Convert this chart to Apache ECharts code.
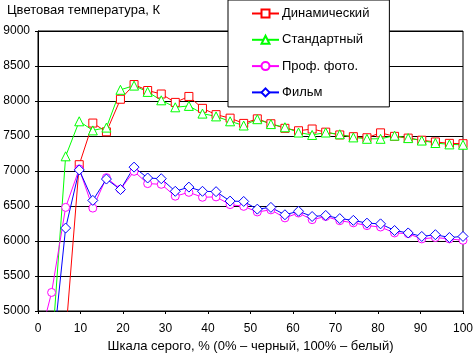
<!DOCTYPE html>
<html>
<head>
<meta charset="utf-8">
<script src="https://cdn.jsdelivr.net/npm/echarts@6/dist/echarts.min.js"></script>
<style>
  html, body { margin: 0; padding: 0; background: #fff; }
  #chart { width: 473px; height: 354px; }
</style>
</head>
<body>
<div id="chart"></div>
<script>
// grayscale level, % (0% black, 100% white)
const gray = [0, 3.2, 6.5, 9.7, 12.9, 16.1, 19.4, 22.6, 25.8, 29.0, 32.3, 35.5, 38.7, 41.9, 45.2, 48.4,
    51.6, 54.8, 58.1, 61.3, 64.5, 67.7, 71.0, 74.2, 77.4, 80.6, 83.9, 87.1, 90.3, 93.5, 96.8, 100];

const dynamicK = [3000, 3900, 4650, 7090, 7685, 7560, 8025, 8235, 8150, 8100, 7980, 8065, 7895, 7805, 7755, 7680,
    7745, 7675, 7610, 7575, 7600, 7555, 7515, 7490, 7475, 7545, 7495, 7470, 7440, 7415, 7395, 7390];
const standardK = [3300, 4390, 7210, 7710, 7580, 7620, 8160, 8220, 8130, 8010, 7910, 7930, 7820, 7780, 7710, 7650,
    7740, 7670, 7625, 7550, 7515, 7550, 7525, 7480, 7460, 7460, 7505, 7470, 7435, 7400, 7380, 7375];
const photoK = [4500, 5265, 6480, 7030, 6470, 6905, 6740, 6995, 6820, 6810, 6640, 6695, 6625, 6630, 6520, 6495,
    6415, 6445, 6330, 6400, 6305, 6350, 6290, 6260, 6220, 6200, 6115, 6105, 6030, 6050, 6030, 6010];
const filmK = [3000, 4250, 6185, 7015, 6580, 6885, 6735, 7055, 6900, 6890, 6710, 6770, 6710, 6705, 6570, 6565,
    6455, 6480, 6375, 6425, 6350, 6365, 6320, 6295, 6255, 6245, 6150, 6115, 6065, 6090, 6050, 6065];

const seriesDefs = [
    { name: 'Динамический', values: dynamicK, color: '#ff0000', symbol: 'rect', size: 8 },
    { name: 'Стандартный', values: standardK, color: '#00ff00', symbol: 'triangle', size: 9 },
    { name: 'Проф. фото.', values: photoK, color: '#ff00ff', symbol: 'circle', size: 8 },
    { name: 'Фильм', values: filmK, color: '#0000ff', symbol: 'diamond', size: 10 }
];

const font = '"Liberation Sans", Arial, sans-serif';

const chart = echarts.init(document.getElementById('chart'), null, { renderer: 'canvas' });

chart.setOption({
    animation: false,
    backgroundColor: '#fff',
    title: {
        text: 'Цветовая температура, К',
        left: 3,
        top: 0,
        padding: 4,
        textStyle: { fontFamily: font, fontSize: 13, fontWeight: 'normal', color: '#000' }
    },
    legend: {
        orient: 'vertical',
        left: 228,
        top: 0,
        padding: [7, 20, 8, 23],
        itemWidth: 27,
        itemHeight: 10,
        itemGap: 13.3,
        backgroundColor: '#fff',
        borderColor: '#000',
        borderWidth: 1,
        borderRadius: 0,
        textStyle: { fontFamily: font, fontSize: 13, color: '#000', padding: [0, 0, 0, -2] },
        data: seriesDefs.map(s => s.name)
    },
    grid: {
        left: 38,
        right: 10,
        top: 31,
        bottom: 43,
        outerBoundsMode: 'none',
        show: true,
        borderColor: '#000',
        borderWidth: 1
    },
    xAxis: {
        type: 'value',
        min: 0,
        max: 100,
        interval: 10,
        name: 'Шкала серого, % (0% – черный, 100% – белый)',
        nameLocation: 'middle',
        nameGap: 29,
        nameTextStyle: { fontFamily: font, fontSize: 13, color: '#000' },
        axisLine: { show: true, lineStyle: { color: '#000', width: 1 } },
        axisTick: { show: true, length: 3, lineStyle: { color: '#000' } },
        axisLabel: { fontFamily: font, fontSize: 12, color: '#000', margin: 12 },
        splitLine: { show: false }
    },
    yAxis: {
        type: 'value',
        min: 5000,
        max: 9000,
        interval: 500,
        axisLine: { show: true, lineStyle: { color: '#000', width: 1 } },
        axisTick: { show: true, length: 3, lineStyle: { color: '#000' } },
        axisLabel: { fontFamily: font, fontSize: 12, color: '#000', margin: 8, formatter: v => String(v) },
        splitLine: { show: true, lineStyle: { color: '#000', width: 1 } }
    },
    series: seriesDefs.map(s => ({
        name: s.name,
        type: 'line',
        data: gray.map((g, i) => [g, s.values[i]]),
        clip: true,
        symbol: s.symbol,
        symbolSize: s.size,
        showAllSymbol: true,
        lineStyle: { color: s.color, width: 1 },
        itemStyle: { color: '#fff', borderColor: s.color, borderWidth: 1 },
        emphasis: { disabled: true }
    }))
});
</script>
</body>
</html>
